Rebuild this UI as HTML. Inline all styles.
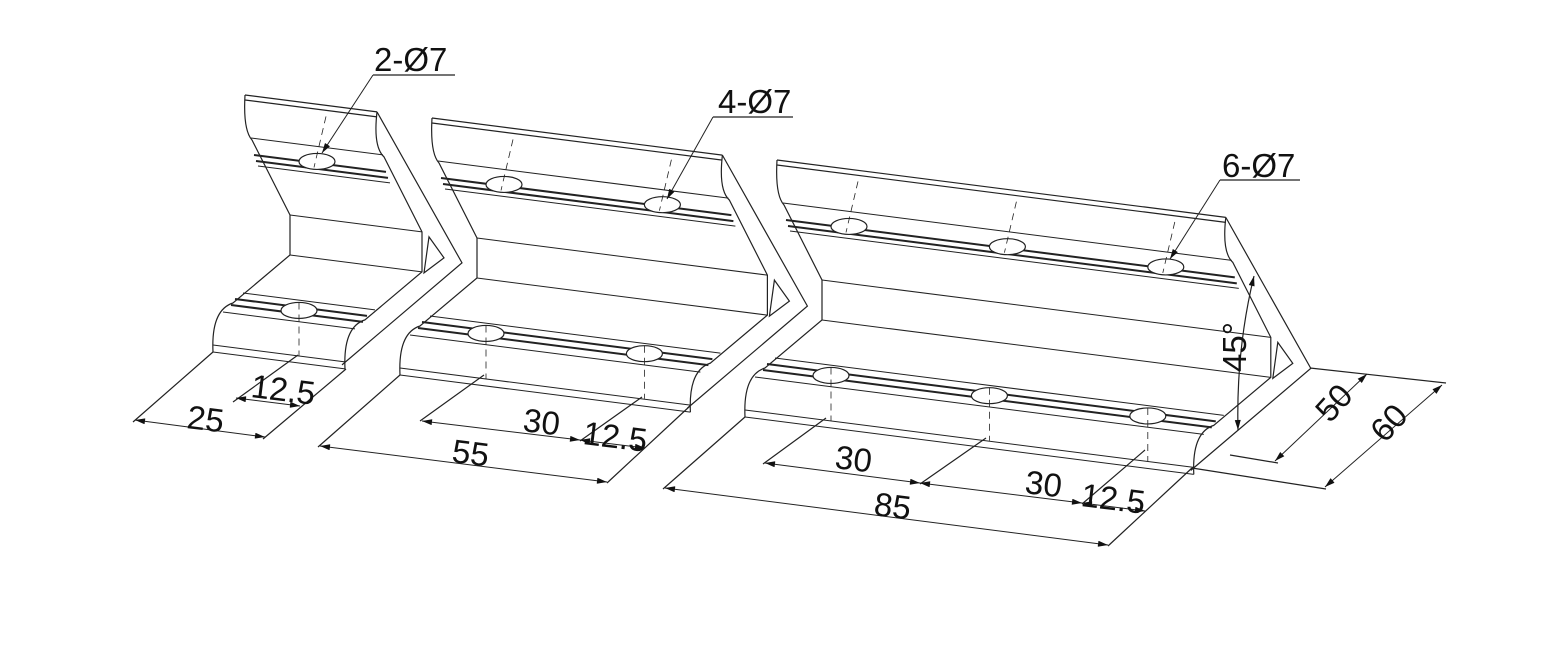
<!DOCTYPE html>
<html><head><meta charset="utf-8"><style>
html,body{margin:0;padding:0;background:#fff;width:1554px;height:663px;overflow:hidden}
svg{display:block}
text{font-family:"Liberation Sans",sans-serif;fill:#111}
</style></head><body>
<svg id="s" width="1554" height="663" viewBox="0 0 1554 663" xmlns="http://www.w3.org/2000/svg">
<defs><marker id="ar" viewBox="0 0 10 6" refX="10" refY="3" markerWidth="14" markerHeight="6" markerUnits="userSpaceOnUse" orient="auto-start-reverse"><path d="M0,0L10,3L0,6z" fill="#111"/></marker></defs>
<g id="g" fill="none" stroke="#222" stroke-width="1.2"></g>
<g font-size="33">
<text x="374" y="71">2-Ø7</text>
<text x="718" y="113">4-Ø7</text>
<text x="1222" y="177">6-Ø7</text>
<text transform="translate(186,428) rotate(7)">25</text>
<text transform="translate(250,397) rotate(7)">12.5</text>
<text transform="translate(451,462) rotate(7)">55</text>
<text transform="translate(522,431) rotate(7)">30</text>
<text transform="translate(582,444) rotate(7)">12.5</text>
<text transform="translate(873,515) rotate(7)">85</text>
<text transform="translate(834,468) rotate(7)">30</text>
<text transform="translate(1024,493) rotate(7)">30</text>
<text transform="translate(1080,506) rotate(7)">12.5</text>
<text transform="translate(1330,424) rotate(-48)">50</text>
<text transform="translate(1385,444) rotate(-48)">60</text>
<text transform="translate(1246,372) rotate(-90)">45°</text>
</g>
</svg>
<script>
var g=document.getElementById('g'),NS='http://www.w3.org/2000/svg';
function el(t,a){var e=document.createElementNS(NS,t);for(var k in a)e.setAttribute(k,a[k]);g.appendChild(e);return e;}
function L(x1,y1,x2,y2,w,dash,m){var a={x1:x1,y1:y1,x2:x2,y2:y2};if(w)a['stroke-width']=w;if(dash)a['stroke-dasharray']=dash;if(m=='b'){a['marker-start']='url(#ar)';a['marker-end']='url(#ar)';}if(m=='e')a['marker-end']='url(#ar)';el('line',a);}
var dx=5.28,dy=0.675;
function bracket(X,Y,mm){
 var ox=mm*dx,oy=mm*dy;
 el('path',{d:'M'+X+','+Y+' Q'+(X-2)+','+(Y+35)+' '+(X+7)+','+(Y+45)+' L'+(X+45)+','+(Y+120)+' L'+(X+45)+','+(Y+160)+' L'+(X-12)+','+(Y+208)+' Q'+(X-34)+','+(Y+215)+' '+(X-32)+','+(Y+257)});
 var pts=[[0,0,1.2],[0,5,1.2],[6,43,1],[9,60,2],[11,66,2],[13,71,1],[45,120,1],[45,160,1],[-2,198,1],[-10,204,2],[-14,210,2],[-22,217,1],[-32,250,1],[-32,257,1]];
 pts.forEach(function(p){L(X+p[0],Y+p[1],X+p[0]+ox,Y+p[1]+oy,p[2]);});
 var R=[X+ox,Y+oy];
 el('path',{d:'M'+R[0]+','+R[1]+' L'+(R[0]+85)+','+(R[1]+151)+' L'+(R[0]-35)+','+(R[1]+253)});
 el('path',{d:'M'+R[0]+','+R[1]+' Q'+(R[0]-4)+','+(R[1]+35)+' '+(R[0]+7)+','+(R[1]+45)+' L'+(R[0]+45)+','+(R[1]+120)+' L'+(R[0]+45)+','+(R[1]+160)+' L'+(R[0]-12)+','+(R[1]+208)+' Q'+(R[0]-34)+','+(R[1]+215)+' '+(R[0]-32)+','+(R[1]+257)});
 el('path',{d:'M'+(R[0]+52)+','+(R[1]+125)+' L'+(R[0]+67)+','+(R[1]+146)+' L'+(R[0]+47)+','+(R[1]+161)+'z'});
 for(var h=12.5;h<mm;h+=30){
  var ux=X+6+h*dx,uy=Y+58+h*dy;
  el('ellipse',{cx:ux,cy:uy,rx:18,ry:8,fill:'#fff'});
  L(ux+9,uy-45,ux-3,uy+6,0.8,'7,5');
  var lx=X-12+h*dx,ly=Y+207+h*dy;
  el('ellipse',{cx:lx,cy:ly,rx:18,ry:8,fill:'#fff'});
  L(lx,ly-8,lx,ly+45,0.8,'7,5');
 }
}
bracket(245,95,25);bracket(432,118,55);bracket(777,160,85);
L(373,75,455,75);L(373,75,322,153,1,null,'e');
L(713,117,793,117);L(713,117,667,199,1,null,'e');
L(1220,180,1300,180);L(1220,180,1170,259,1,null,'e');
L(213,352,133,422);L(346,369,263,439);L(298,355,233,402);
L(135,420,265,437,1,null,'b');L(236,398,300,406,1,null,'b');
L(400,375,318,447);L(484,375,420,421);L(642,397,580,441);L(690,406,607,483);
L(320,446,607,482,1,null,'b');L(422,421,580,440,1,null,'b');L(580,440,645,448,1,null,'b');
L(745,417,663,489);L(826,418,763,464);L(986,438,920,484);L(1145,450,1082,504);L(1192,468,1108,546);
L(665,488,1108,545,1,null,'b');L(765,463,920,483,1,null,'b');L(920,483,1082,503,1,null,'b');L(1082,503,1145,511,1,null,'b');
L(1310,368,1446,383);L(1230,455,1278,463);L(1192,468,1326,489);
L(1275,461,1367,374,1,null,'b');L(1325,487,1442,385,1,null,'b');
el('path',{d:'M1254,276 Q1236,350 1238,430','marker-start':'url(#ar)','marker-end':'url(#ar)'});
</script>
</body></html>
